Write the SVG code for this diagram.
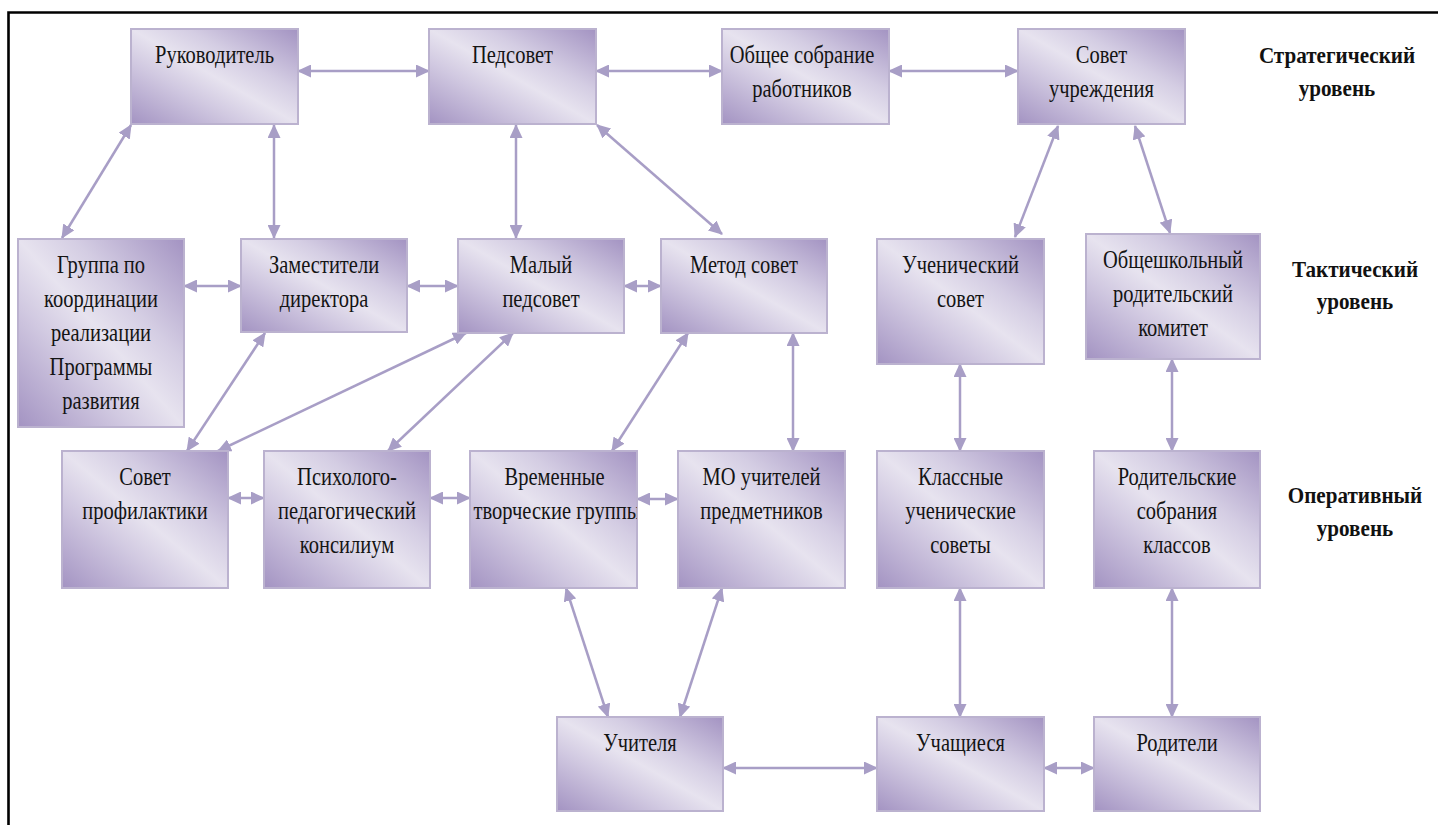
<svg xmlns="http://www.w3.org/2000/svg" width="1438" height="825" viewBox="0 0 1438 825">
<style>
.box{fill:url(#g);stroke:#bbb2cf;stroke-width:2}
.t{font-family:"Liberation Serif","Times New Roman",serif;font-size:25px;fill:#141414;text-anchor:middle}
.lv{font-family:"Liberation Serif","Times New Roman",serif;font-size:24px;font-weight:bold;fill:#111;text-anchor:middle}
.c line{stroke:#a89ec6;stroke-width:2.5;marker-start:url(#ah);marker-end:url(#ah)}
</style>
<defs>
<linearGradient id="g" x1="0" y1="1" x2="1" y2="0">
<stop offset="0" stop-color="#a393c2"/>
<stop offset="0.33" stop-color="#d1c9e1"/>
<stop offset="0.5" stop-color="#e7e3ef"/>
<stop offset="0.67" stop-color="#d4cde3"/>
<stop offset="1" stop-color="#a393c2"/>
</linearGradient>
<marker id="ah" markerUnits="userSpaceOnUse" markerWidth="14" markerHeight="13" refX="13" refY="6.5" orient="auto-start-reverse" viewBox="0 0 14 13">
<path d="M0,0 L14,6.5 L0,13 z" fill="#a89ec6"/>
</marker>
<clipPath id="clipVr"><rect x="470" y="451" width="167" height="137"/></clipPath>
</defs>
<rect width="1438" height="825" fill="#fff"/>
<path d="M8.5,825 V12.5 H1438" fill="none" stroke="#000" stroke-width="2.6"/>

<g class="c" id="connectors">
<line x1="298" y1="71" x2="429" y2="71"/>
<line x1="596" y1="71" x2="722" y2="71"/>
<line x1="889" y1="71" x2="1018" y2="71"/>
<line x1="131" y1="125" x2="62" y2="238"/>
<line x1="274" y1="125" x2="274" y2="238"/>
<line x1="516" y1="125" x2="516" y2="238"/>
<line x1="597" y1="125" x2="722" y2="234"/>
<line x1="1058" y1="126" x2="1015" y2="237"/>
<line x1="1135" y1="126" x2="1170" y2="233"/>
<line x1="184" y1="286" x2="241" y2="286"/>
<line x1="407" y1="286" x2="458" y2="286"/>
<line x1="624" y1="286" x2="661" y2="286"/>
<line x1="265" y1="333" x2="187" y2="451"/>
<line x1="466" y1="333" x2="218" y2="451"/>
<line x1="513" y1="333" x2="388" y2="451"/>
<line x1="688" y1="333" x2="612" y2="451"/>
<line x1="793" y1="333" x2="793" y2="451"/>
<line x1="960" y1="364" x2="960" y2="451"/>
<line x1="1172" y1="359" x2="1172" y2="451"/>
<line x1="228" y1="498" x2="264" y2="498"/>
<line x1="430" y1="498" x2="470" y2="498"/>
<line x1="637" y1="499" x2="678" y2="499"/>
<line x1="566" y1="588" x2="608" y2="717"/>
<line x1="722" y1="588" x2="680" y2="717"/>
<line x1="960" y1="588" x2="960" y2="717"/>
<line x1="1172" y1="588" x2="1172" y2="717"/>
<line x1="723" y1="768" x2="877" y2="768"/>
<line x1="1044" y1="768" x2="1094" y2="768"/>
</g>

<g id="n-rukovoditel"><rect class="box" x="131" y="29" width="167" height="95"/>
<text class="t" transform="matrix(0.82 0 0 1 214.5 0)"><tspan x="0" y="63">Руководитель</tspan></text></g>
<g id="n-pedsovet"><rect class="box" x="429" y="29" width="167" height="95"/>
<text class="t" transform="matrix(0.82 0 0 1 512.5 0)"><tspan x="0" y="63">Педсовет</tspan></text></g>
<g id="n-obshchee"><rect class="box" x="722" y="29" width="167" height="95"/>
<text class="t" transform="matrix(0.82 0 0 1 802 0)"><tspan x="0" y="63">Общее собрание</tspan><tspan x="0" y="97">работников</tspan></text></g>
<g id="n-sovet-uchr"><rect class="box" x="1018" y="29" width="167" height="95"/>
<text class="t" transform="matrix(0.82 0 0 1 1101.5 0)"><tspan x="0" y="63">Совет</tspan><tspan x="0" y="97">учреждения</tspan></text></g>

<g id="n-gruppa"><rect class="box" x="18" y="239" width="166" height="188"/>
<text class="t" transform="matrix(0.82 0 0 1 101 0)"><tspan x="0" y="273">Группа по</tspan><tspan x="0" y="307">координации</tspan><tspan x="0" y="341">реализации</tspan><tspan x="0" y="375">Программы</tspan><tspan x="0" y="409">развития</tspan></text></g>
<g id="n-zam"><rect class="box" x="241" y="239" width="166" height="93"/>
<text class="t" transform="matrix(0.82 0 0 1 324 0)"><tspan x="0" y="273">Заместители</tspan><tspan x="0" y="307">директора</tspan></text></g>
<g id="n-malyi"><rect class="box" x="458" y="239" width="166" height="94"/>
<text class="t" transform="matrix(0.82 0 0 1 541 0)"><tspan x="0" y="273">Малый</tspan><tspan x="0" y="307">педсовет</tspan></text></g>
<g id="n-metod"><rect class="box" x="661" y="239" width="166" height="94"/>
<text class="t" transform="matrix(0.82 0 0 1 744 0)"><tspan x="0" y="273">Метод совет</tspan></text></g>
<g id="n-uchen-sovet"><rect class="box" x="877" y="239" width="167" height="125"/>
<text class="t" transform="matrix(0.82 0 0 1 960.5 0)"><tspan x="0" y="273">Ученический</tspan><tspan x="0" y="307">совет</tspan></text></g>
<g id="n-obshcheshk"><rect class="box" x="1086" y="234" width="174" height="125"/>
<text class="t" transform="matrix(0.82 0 0 1 1173 0)"><tspan x="0" y="268">Общешкольный</tspan><tspan x="0" y="302">родительский</tspan><tspan x="0" y="336">комитет</tspan></text></g>

<g id="n-profilakt"><rect class="box" x="62" y="451" width="166" height="137"/>
<text class="t" transform="matrix(0.82 0 0 1 145 0)"><tspan x="0" y="485">Совет</tspan><tspan x="0" y="519">профилактики</tspan></text></g>
<g id="n-psiholog"><rect class="box" x="264" y="451" width="166" height="137"/>
<text class="t" transform="matrix(0.82 0 0 1 347 0)"><tspan x="0" y="485">Психолого-</tspan><tspan x="0" y="519">педагогический</tspan><tspan x="0" y="553">консилиум</tspan></text></g>
<g id="n-vremennye"><rect class="box" x="470" y="451" width="167" height="137"/>
<g clip-path="url(#clipVr)"><text class="t" transform="matrix(0.82 0 0 1 557 0)"><tspan x="-3" y="485">Временные</tspan><tspan x="0" y="519">творческие группы</tspan></text></g></g>
<g id="n-mo"><rect class="box" x="678" y="451" width="167" height="137"/>
<text class="t" transform="matrix(0.82 0 0 1 761.5 0)"><tspan x="0" y="485">МО учителей</tspan><tspan x="0" y="519">предметников</tspan></text></g>
<g id="n-klassnye"><rect class="box" x="877" y="451" width="167" height="137"/>
<text class="t" transform="matrix(0.82 0 0 1 960.5 0)"><tspan x="0" y="485">Классные</tspan><tspan x="0" y="519">ученические</tspan><tspan x="0" y="553">советы</tspan></text></g>
<g id="n-rod-sobr"><rect class="box" x="1094" y="451" width="166" height="137"/>
<text class="t" transform="matrix(0.82 0 0 1 1177 0)"><tspan x="0" y="485">Родительские</tspan><tspan x="0" y="519">собрания</tspan><tspan x="0" y="553">классов</tspan></text></g>

<g id="n-uchitelya"><rect class="box" x="557" y="717" width="166" height="94"/>
<text class="t" transform="matrix(0.82 0 0 1 640 0)"><tspan x="0" y="751">Учителя</tspan></text></g>
<g id="n-uchashchiesya"><rect class="box" x="877" y="717" width="167" height="94"/>
<text class="t" transform="matrix(0.82 0 0 1 960.5 0)"><tspan x="0" y="751">Учащиеся</tspan></text></g>
<g id="n-roditeli"><rect class="box" x="1094" y="717" width="166" height="94"/>
<text class="t" transform="matrix(0.82 0 0 1 1177 0)"><tspan x="0" y="751">Родители</tspan></text></g>

<g id="levels">
<text class="lv" transform="matrix(0.88 0 0 1 1337 0)"><tspan x="0" y="63">Стратегический</tspan><tspan x="0" y="96">уровень</tspan></text>
<text class="lv" transform="matrix(0.88 0 0 1 1355 0)"><tspan x="0" y="277">Тактический</tspan><tspan x="0" y="309">уровень</tspan></text>
<text class="lv" transform="matrix(0.88 0 0 1 1355 0)"><tspan x="0" y="503">Оперативный</tspan><tspan x="0" y="536">уровень</tspan></text>
</g>
</svg>
